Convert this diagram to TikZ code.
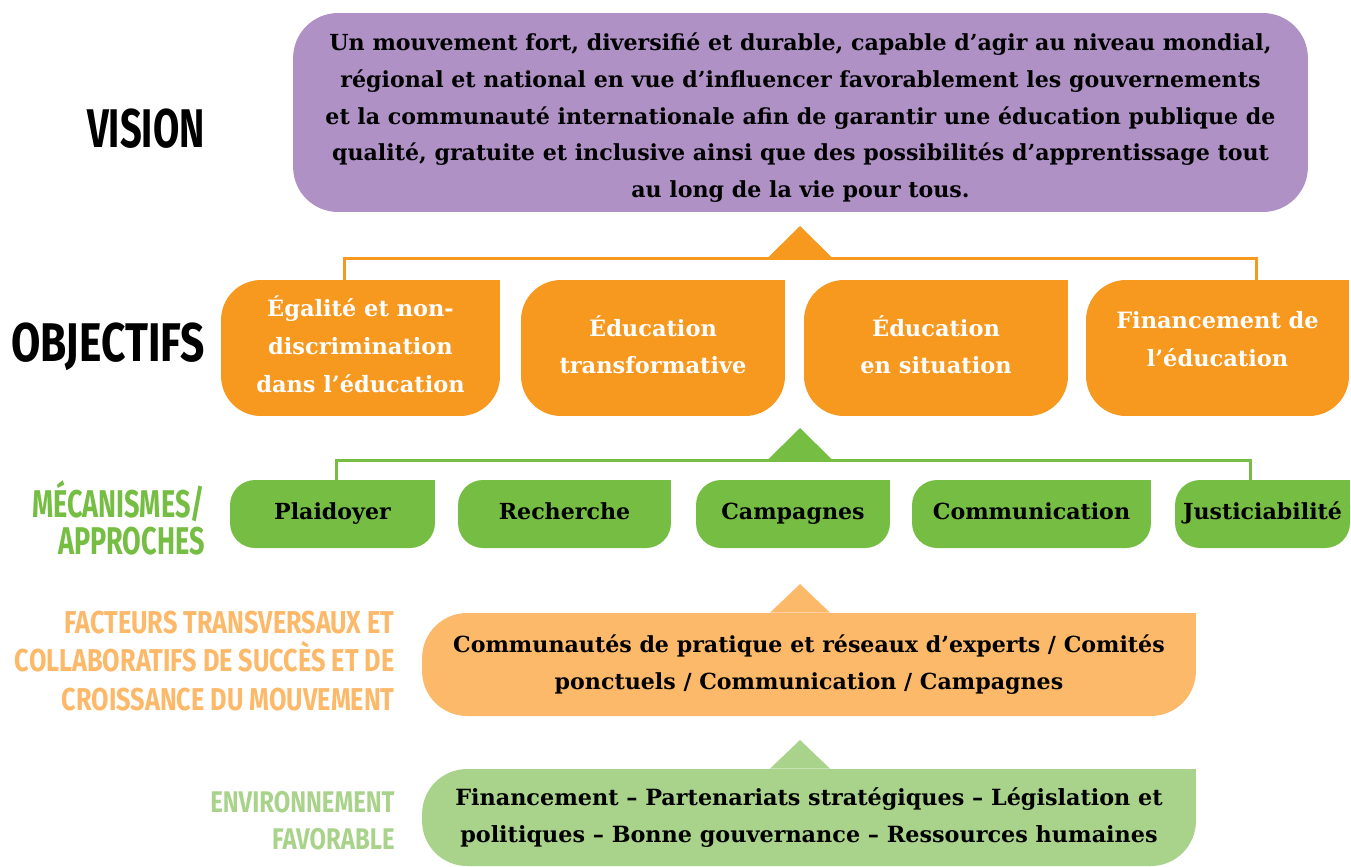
\documentclass[tikz,border=0pt]{standalone}
\usepackage{fontspec}
\setmainfont{DejaVu Serif}
\newfontfamily\capsfont[FakeStretch=0.7]{Fira Sans}
\newfontfamily\widecapsfont[FakeStretch=0.8]{Fira Sans}
\newfontfamily\goalcapsfont[FakeStretch=0.78]{Fira Sans}
\usetikzlibrary{positioning, calc, backgrounds}

\definecolor{visionpurple}{HTML}{AF91C5}
\definecolor{goalorange}{HTML}{F7981F}
\definecolor{mechgreen}{HTML}{76BE43}
\definecolor{factorpeach}{HTML}{FDB96A}
\definecolor{envgreen}{HTML}{A9D38B}

\begin{document}
\begin{tikzpicture}[
    x=0.02cm, y=-0.02cm,
    visionbox/.style={fill=visionpurple, rounded corners=0.9cm, inner sep=0pt, minimum width=20.3cm, minimum height=3.98cm, align=center, font=\bfseries\fontsize{12.6}{21}\selectfont},
    goalbox/.style={fill=goalorange, rounded corners=0.8cm, inner sep=0pt, minimum height=2.72cm, align=center, text=white, font=\bfseries\fontsize{12.8}{21.5}\selectfont},
    mechbox/.style={fill=mechgreen, rounded corners=0.5cm, inner sep=0pt, minimum height=1.36cm, text height=9pt, text depth=3pt, align=center, font=\bfseries\fontsize{12.6}{21}\selectfont},
    factorbox/.style={fill=factorpeach, rounded corners=0.9cm, inner sep=0pt, minimum width=15.48cm, align=center, font=\bfseries\fontsize{12.6}{21}\selectfont},
    envbox/.style={fill=envgreen, rounded corners=0.9cm, inner sep=0pt, minimum width=15.48cm, align=center, font=\bfseries\fontsize{12.7}{21}\selectfont},
    rowlabel/.style={anchor=east, align=right, inner sep=0pt},
    goalline/.style={draw=goalorange, line width=0.06cm},
    mechline/.style={draw=mechgreen, line width=0.06cm}
]
    \useasboundingbox (0,0) rectangle (1351,866);

    % row labels
    \node[rowlabel, font=\capsfont\bfseries\fontsize{31}{31}\selectfont] (lvision) at (205,129) {VISION};
    \node[rowlabel, font=\goalcapsfont\bfseries\fontsize{31}{31}\selectfont] (lgoals) at (205,347) {OBJECTIFS};
    \node[rowlabel, text=mechgreen, font=\capsfont\bfseries\fontsize{22}{21}\selectfont] (lmech) at (205,518) {MÉCANISMES/\\APPROCHES};
    \node[rowlabel, text=factorpeach, font=\widecapsfont\bfseries\fontsize{18}{21.8}\selectfont] (lfactor) at (395,661) {FACTEURS TRANSVERSAUX ET\\COLLABORATIFS DE SUCCÈS ET DE\\CROISSANCE DU MOUVEMENT};
    \node[rowlabel, text=envgreen, font=\widecapsfont\bfseries\fontsize{17}{21}\selectfont] (lenv) at (395,821) {ENVIRONNEMENT\\FAVORABLE};

    % vision
    \node[visionbox] (vision) at (800.5,112.5) {\rule{0pt}{16pt}Un mouvement fort, diversifié et durable, capable d’agir au niveau mondial,\\régional et national en vue d’influencer favorablement les gouvernements\\et la communauté internationale afin de garantir une éducation publique de\\qualité, gratuite et inclusive ainsi que des possibilités d’apprentissage tout\\au long de la vie pour tous.};

    % objectifs
    \node[goalbox, minimum width=5.58cm] (o1) at (360.5,348) {Égalité et non-\\discrimination\\dans l’éducation\\[-17pt]};
    \node[goalbox, minimum width=5.28cm] (o2) at (653,348) {Éducation\\transformative\\[-17.5pt]};
    \node[goalbox, minimum width=5.28cm] (o3) at (936,348) {Éducation\\en situation\\[-17.5pt]};
    \node[goalbox, minimum width=5.26cm] (o4) at (1217.5,348) {Financement de\\l’éducation\\[-11.5pt]};

    % mecanismes
    \node[mechbox, minimum width=4.1cm] (m1) at (332.5,514) {Plaidoyer};
    \node[mechbox, minimum width=4.26cm] (m2) at (564.5,514) {Recherche};
    \node[mechbox, minimum width=3.88cm] (m3) at (793,514) {Campagnes};
    \node[mechbox, minimum width=4.78cm] (m4) at (1031.5,514) {Communication};
    \node[mechbox, minimum width=3.5cm] (m5) at (1262.5,514) {Justiciabilité};

    % facteurs et environnement
    \node[factorbox, minimum height=2.06cm] (factor) at (809,664.5) {Communautés de pratique et réseaux d’experts / Comités\\ponctuels / Communication / Campagnes};
    \node[envbox, minimum height=1.94cm] (env) at (809,817.5) {Financement – Partenariats stratégiques – Législation et\\politiques – Bonne gouvernance – Ressources humaines};

    % square top right corners
    \begin{scope}[on background layer]
    \foreach \n/\r/\c in {o1/0.8/goalorange, o2/0.8/goalorange, o3/0.8/goalorange, o4/0.8/goalorange,
        m1/0.5/mechgreen, m2/0.5/mechgreen, m3/0.5/mechgreen, m4/0.5/mechgreen, m5/0.5/mechgreen,
        factor/0.9/factorpeach, env/0.9/envgreen}
        \fill[\c] (\n.north east) rectangle ([xshift=-\r cm, yshift=-\r cm]\n.north east);
    \end{scope}

    % connectors and pointers
    \coordinate (gjoin) at (800,258);
    \coordinate (mjoin) at (800,460);
    \draw[goalline] ($(o1.north west)!0.444!(o1.north east)$) |- (gjoin) -| ($(o4.north west)!0.646!(o4.north east)$);
    \draw[mechline] ($(m1.north west)!0.52!(m1.north east)$) |- (mjoin) -| ($(m5.north west)!0.43!(m5.north east)$);
    \fill[goalorange] ([xshift=-0.65cm]gjoin) -- (800,226) -- ([xshift=0.65cm]gjoin) -- cycle;
    \fill[mechgreen] ([xshift=-0.65cm]mjoin) -- (800,428) -- ([xshift=0.65cm]mjoin) -- cycle;
    \fill[factorpeach] ([xshift=-0.6cm]factor.north -| gjoin) -- (800,584) -- ([xshift=0.6cm]factor.north -| gjoin) -- cycle;
    \fill[envgreen] ([xshift=-0.6cm]env.north -| gjoin) -- (800,740) -- ([xshift=0.6cm]env.north -| gjoin) -- cycle;
\end{tikzpicture}
\end{document}
